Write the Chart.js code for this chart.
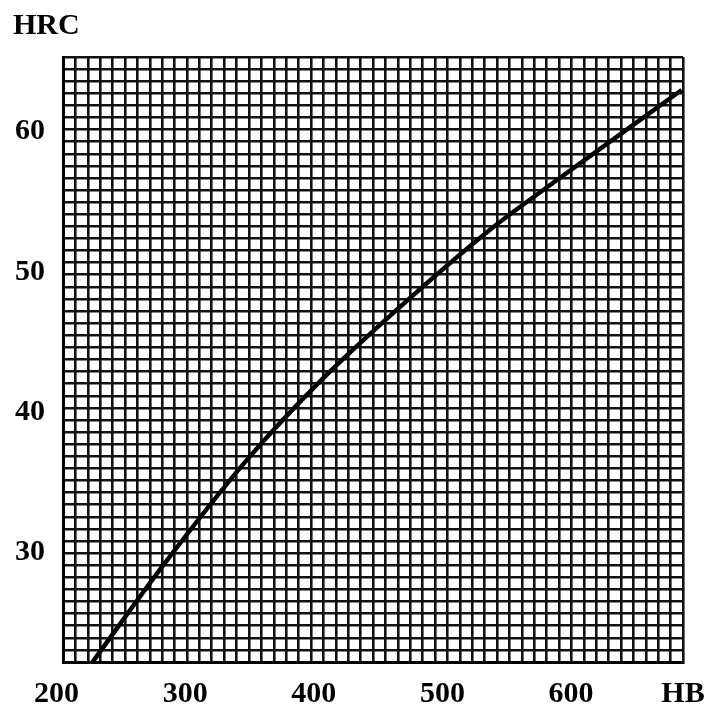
<!DOCTYPE html>
<html>
<head>
<meta charset="utf-8">
<script src="https://cdn.jsdelivr.net/npm/chart.js@4"></script>
<style>
  body { margin: 0; background: #fff; }
  #wrap { width: 711px; height: 704px; position: relative; }
</style>
</head>
<body>
<div id="wrap"><canvas id="hbChart"></canvas></div>
<script>
// HB -> HRC conversion curve
const hbValues = [228, 283, 348, 406, 467, 537, 581, 686];
const hrcValues = [22.2, 29.1, 36.6, 42.3, 47.5, 53.0, 56.0, 62.95];

const xTickLabels = ['200', '300', '400', '500', '600', 'HB'];
const yTickValues = [30, 40, 50, 60];

const xMin = 205, xMax = 687;
const yMin = 22.2, yMax = 65.3;
const xTickValues = [200, 300, 400, 500, 600, xMax];
const gridCells = 50;

const labelFont = { family: "'Liberation Serif', 'Times New Roman', serif", size: 30, weight: 'bold' };

const ctx = document.getElementById('hbChart').getContext('2d');

new Chart(ctx, {
  type: 'line',
  data: {
    datasets: [{
      data: hbValues.map((hb, i) => ({ x: hb, y: hrcValues[i] })),
      borderColor: '#000',
      borderWidth: 4.5,
      pointRadius: 0,
      fill: false,
      tension: 0.4,
      cubicInterpolationMode: 'monotone'
    }]
  },
  options: {
    responsive: true,
    maintainAspectRatio: false,
    animation: false,
    layout: { padding: { left: 13, right: 28, top: 0, bottom: 0 } },
    plugins: {
      legend: { display: false },
      tooltip: { enabled: false },
      title: {
        display: true,
        text: 'HRC',
        align: 'start',
        color: '#000',
        font: labelFont,
        padding: { top: 8, bottom: 13 }
      }
    },
    scales: {
      x: {
        type: 'linear',
        position: 'bottom',
        weight: 1,
        min: xMin,
        max: xMax,
        grid: { display: false, drawTicks: false },
        border: { display: false },
        afterBuildTicks: axis => { axis.ticks = xTickValues.map(v => ({ value: v })); },
        afterFit: axis => { axis.height = 42; axis.paddingRight = 0; axis.paddingLeft = 0; },
        ticks: {
          autoSkip: false,
          maxRotation: 0,
          padding: 14,
          color: '#000',
          font: labelFont,
          callback: function (value, index) { return xTickLabels[index]; }
        }
      },
      y: {
        type: 'linear',
        position: 'left',
        weight: 1,
        min: yMin,
        max: yMax,
        grid: { display: false, drawTicks: false },
        border: { display: false },
        afterBuildTicks: axis => { axis.ticks = yTickValues.map(v => ({ value: v })); },
        afterFit: axis => { axis.width = 50; axis.paddingTop = 0; axis.paddingBottom = 0; },
        ticks: {
          padding: 18,
          color: '#000',
          font: labelFont
        }
      },
      // the graph-paper grid, independent of the data scales
      gx: {
        type: 'linear',
        position: 'bottom',
        weight: 0,
        min: 0,
        max: gridCells,
        afterFit: axis => { axis.height = 0; },
        ticks: { display: false, stepSize: 1 },
        grid: { color: '#111', lineWidth: 2.6, drawTicks: false },
        border: { display: true, color: '#000', width: 3 }
      },
      gy: {
        type: 'linear',
        position: 'left',
        weight: 0,
        min: 0,
        max: gridCells,
        afterFit: axis => { axis.width = 0; },
        ticks: { display: false, stepSize: 1 },
        grid: { color: '#111', lineWidth: 2.6, drawTicks: false },
        border: { display: true, color: '#000', width: 3 }
      }
    }
  }
});
</script>
</body>
</html>
